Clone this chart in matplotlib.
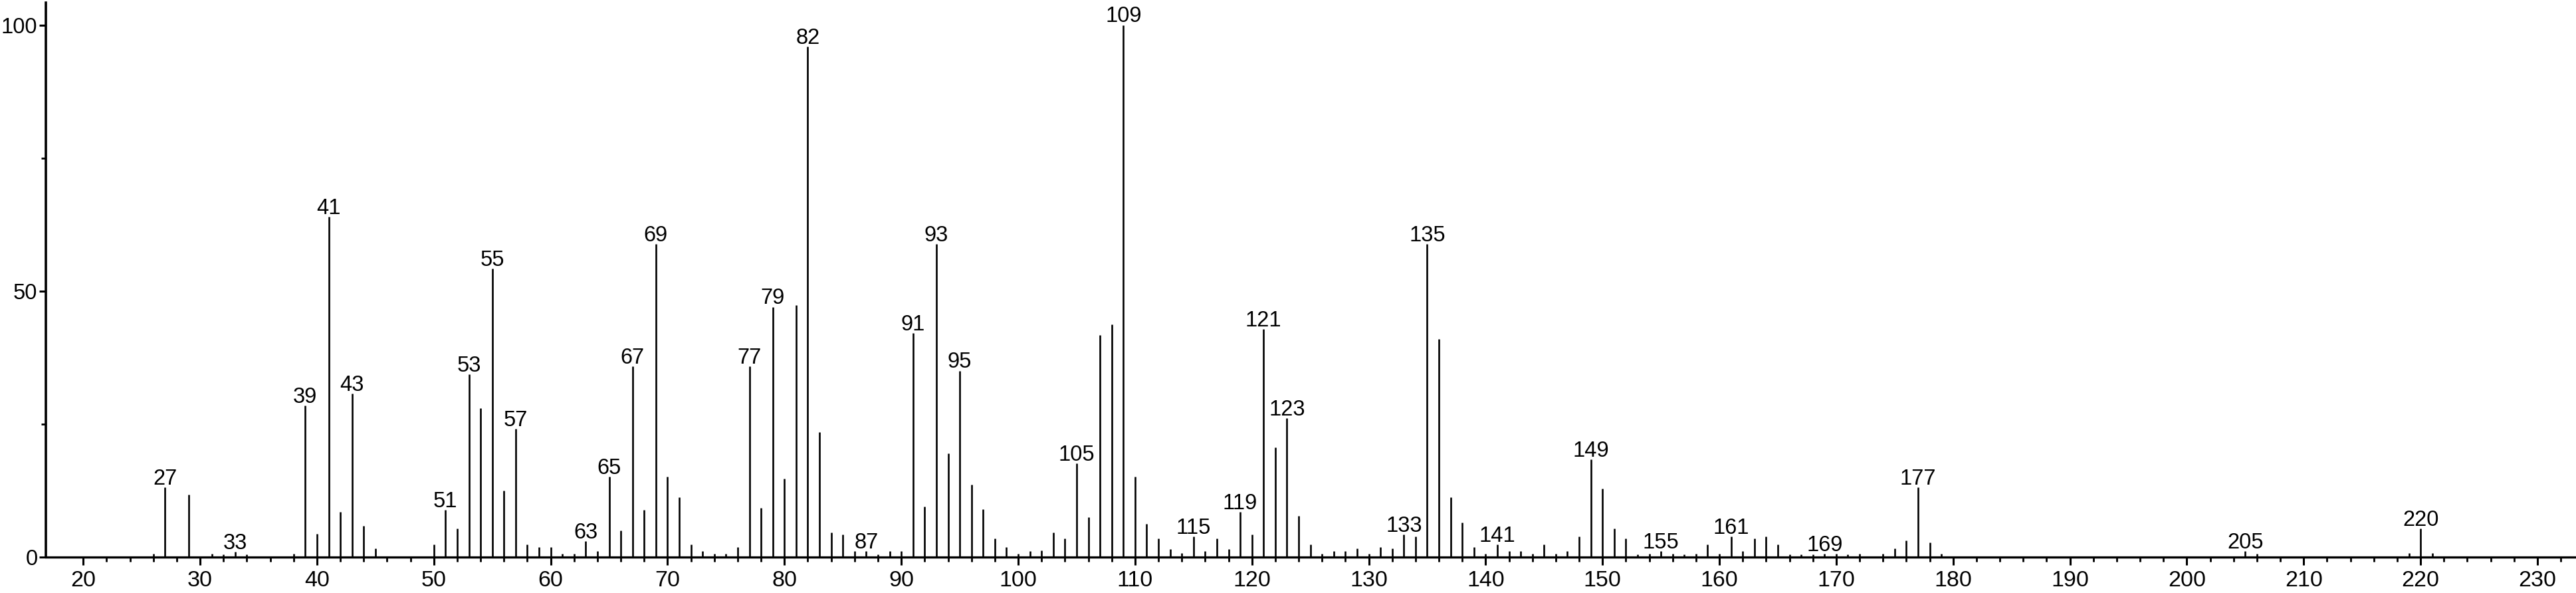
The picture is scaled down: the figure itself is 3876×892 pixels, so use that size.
import matplotlib
matplotlib.use("Agg")
import matplotlib.pyplot as plt
from matplotlib import font_manager
from matplotlib.ticker import MultipleLocator, FixedLocator

# the spectrum uses a narrow Helvetica; take Liberation Sans Narrow if it is there
try:
    font_manager.findfont('Liberation Sans Narrow', fallback_to_default=False)
    NARROW = True
except ValueError:
    NARROW = False

if NARROW:
    plt.rcParams['font.family'] = ['Liberation Sans Narrow', 'DejaVu Sans']
    PEAK_SIZE, TICK_SIZE, YTICK_SIZE = 26, 27, 27
else:
    plt.rcParams['font.family'] = ['Liberation Sans', 'DejaVu Sans']
    PEAK_SIZE, TICK_SIZE, YTICK_SIZE = 23.5, 24.5, 23.5

# m/z values and relative intensities (%)
mz = [26, 27, 29, 31, 32, 33, 34, 38, 39, 40, 41, 42, 43, 44, 45,
      50, 51, 52, 53, 54, 55, 56, 57, 58, 59, 60, 61, 62, 63, 64,
      65, 66, 67, 68, 69, 70, 71, 72, 73, 74, 75, 76, 77, 78, 79,
      80, 81, 82, 83, 84, 85, 86, 87, 88, 89, 90, 91, 92, 93, 94,
      95, 96, 97, 98, 99, 100, 101, 102, 103, 104, 105, 106, 107, 108, 109,
      110, 111, 112, 113, 114, 115, 116, 117, 118, 119, 120, 121, 122, 123, 124,
      125, 126, 127, 128, 129, 130, 131, 132, 133, 134, 135, 136, 137, 138, 139,
      140, 141, 142, 143, 144, 145, 146, 147, 148, 149, 150, 151, 152, 153, 154,
      155, 156, 157, 158, 159, 160, 161, 162, 163, 164, 165, 166, 167, 168, 169,
      170, 171, 172, 174, 175, 176, 177, 178, 179, 205, 206, 219, 220, 221]
intensity = [0.6, 13.1, 11.7, 0.6, 0.4, 0.9, 0.5, 0.6, 28.4, 4.3, 63.9, 8.5, 30.7, 5.8, 1.6,
             2.3, 8.8, 5.3, 34.3, 28.0, 54.2, 12.4, 24.1, 2.3, 1.8, 1.8, 0.6, 0.6, 3.0, 1.1,
             15.1, 4.9, 35.8, 8.8, 58.8, 15.1, 11.2, 2.3, 1.1, 0.6, 0.6, 1.8, 35.8, 9.2, 47.0,
             14.7, 47.3, 95.9, 23.4, 4.6, 4.2, 1.1, 1.1, 0.4, 1.1, 1.1, 42.1, 9.4, 58.8, 19.5,
             35.0, 13.6, 8.9, 3.5, 1.8, 0.6, 1.1, 1.2, 4.6, 3.5, 17.6, 7.4, 41.7, 43.7, 100.0,
             15.1, 6.2, 3.5, 1.5, 0.75, 3.8, 1.1, 3.5, 1.5, 8.5, 4.2, 42.8, 20.6, 26.1, 7.7,
             2.3, 0.6, 1.1, 1.1, 1.6, 0.6, 1.8, 1.6, 4.2, 3.8, 58.8, 40.9, 11.2, 6.5, 1.8,
             0.6, 2.3, 1.1, 1.1, 0.6, 2.3, 0.6, 1.1, 3.8, 18.3, 12.8, 5.3, 3.5, 0.5, 0.6,
             1.1, 0.6, 0.5, 0.6, 2.3, 0.6, 3.8, 1.1, 3.5, 3.8, 2.3, 0.4, 0.5, 0.5, 0.6,
             0.6, 0.5, 0.6, 0.6, 1.6, 3.1, 13.1, 2.7, 0.6, 1.1, 0.6, 0.7, 5.3, 0.7]

# peaks that carry a label
labeled = [27, 33, 39, 41, 43, 51, 53, 55, 57, 63, 65, 67, 69, 77, 79, 82, 87,
           91, 93, 95, 105, 109, 115, 119, 121, 123, 133, 135, 141, 149, 155,
           161, 169, 177, 205, 220]

fig = plt.figure(figsize=(38.76, 8.92), dpi=100)
ax = fig.add_axes([69 / 3876, 54.3 / 892, 1 - 69 / 3876, 833.7 / 892])

ax.vlines(mz, 0, intensity, colors='black', linewidth=1.9)

peak = dict(zip(mz, intensity))
for m in labeled:
    ax.annotate(str(m), (m, peak[m]), xytext=(0, 3), textcoords='offset points',
                ha='center', va='baseline', fontsize=PEAK_SIZE)

ax.set_xlim(16.8, 233.3)
ax.set_ylim(0, 104.2)

ax.spines[['top', 'right']].set_visible(False)
ax.spines['left'].set_linewidth(2.6)
ax.spines['bottom'].set_linewidth(2.4)

ax.xaxis.set_major_locator(MultipleLocator(10))
ax.xaxis.set_minor_locator(FixedLocator([v for v in range(20, 234, 2) if v % 10 != 0]))
ax.yaxis.set_major_locator(FixedLocator([0, 50, 100]))
ax.yaxis.set_minor_locator(FixedLocator([25, 75]))

ax.tick_params(axis='x', which='major', length=8.6, width=2.2, pad=6, labelsize=TICK_SIZE)
ax.tick_params(axis='x', which='minor', length=5, width=2.0)
ax.tick_params(axis='y', which='major', length=7.5, width=2.2, pad=1.5, labelsize=YTICK_SIZE)
ax.tick_params(axis='y', which='minor', length=4.8, width=2.0)

fig.savefig("out.png", dpi=100)
